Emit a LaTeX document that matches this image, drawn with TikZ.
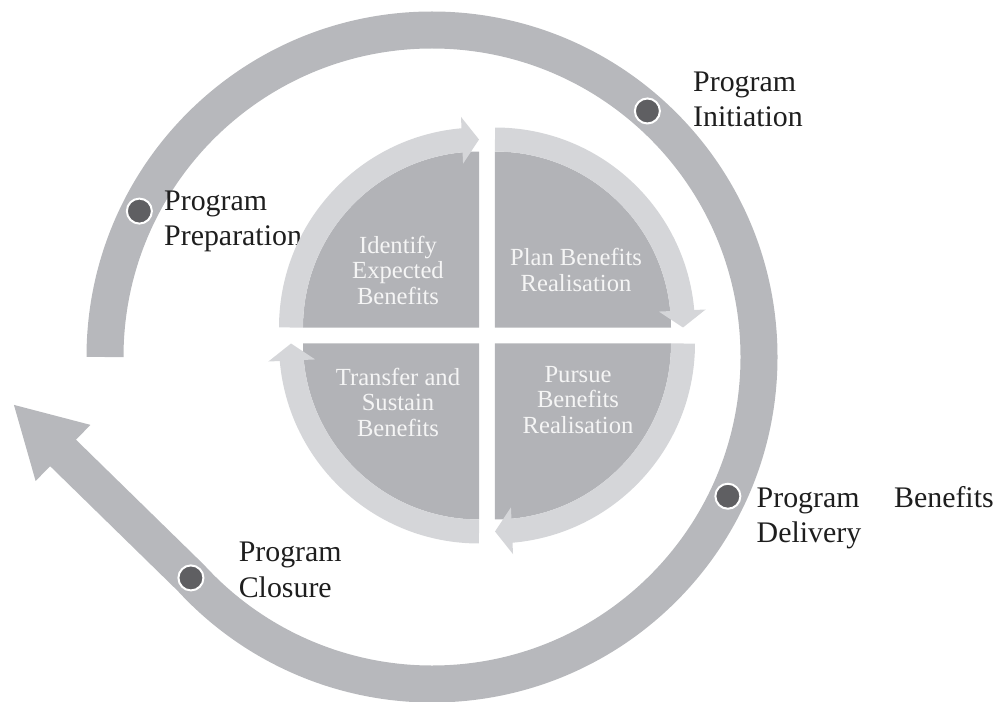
\documentclass[tikz,border=0pt]{standalone}
\usepackage{fontspec}
\setmainfont{Liberation Serif}
\usepackage{tikz}
\usetikzlibrary{shapes,arrows,arrows.meta,bending,calc,positioning}
\definecolor{bandgray}{RGB}{183,184,188}
\definecolor{quadgray}{RGB}{178,179,183}
\definecolor{lightband}{RGB}{213,214,217}
\definecolor{dotgray}{RGB}{95,95,98}
\definecolor{txtdark}{RGB}{30,30,30}
\tikzstyle{outerband} = [draw=bandgray, line width=7.4mm, -{Triangle[length=14mm,width=14.6mm]}, bandgray]
\tikzstyle{quarter} = [fill=quadgray, draw=none]
\tikzstyle{arcband} = [draw=lightband, line width=4.8mm, -{Triangle[length=3.4mm,width=9.2mm]}, lightband]
\tikzstyle{pdot} = [draw=white, fill=dotgray, circle, line width=0.4mm, inner sep=0pt, minimum size=5mm]
\tikzstyle{plabel} = [draw=none, inner sep=0pt, align=left, text=txtdark, font=\fontsize{17}{20}\selectfont]
\tikzstyle{qlabel} = [draw=none, inner sep=0pt, align=center, text=white!96!black, font=\fontsize{14}{14.5}\selectfont]

\begin{document}
\begin{tikzpicture}
\useasboundingbox (0,0) rectangle (20.04,14.02);

\coordinate (oc) at (8.64,6.88);
\coordinate (ic) at (9.74,7.31);
\coordinate (tip) at (0.26,5.94);

% outer cycle
\draw[outerband] ($(oc)+(180:6.54)$) arc[start angle=180, end angle=-137.5, radius=6.54] -- (tip);

\node[pdot] (prep) at ($(oc)+(153.5:6.54)$) {};
\node[pdot] (init) at ($(oc)+(48.8:6.54)$) {};
\node[pdot] (deliv) at ($(oc)+(-25.2:6.54)$) {};
\node[pdot] (close) at ($(oc)+(-137.5:6.54)$) {};

\node[plabel, right=2.2mm of prep, yshift=-2mm] (prepl) {Program\\Preparation};
\node[plabel, right=6.4mm of init, yshift=2.3mm] (initl) {Program\\Initiation};
\node[plabel, right=3mm of deliv, yshift=-4.3mm] (delivl) {\hbox to 47.4mm{Program\hfill Benefits}\\Delivery};
\node[plabel, right=6.8mm of close, yshift=1.6mm] (closel) {Program\\Closure};

% benefits cycle
\foreach \a in {180,90,0,-90} {
  \fill[quarter] ($(ic)+(\a-45:0.226)$) -- ++(\a:3.52) arc[start angle=\a, end angle=\a-90, radius=3.52] -- cycle;
  \draw[arcband] ($(ic)+(\a-45:0.226)+(\a:3.76)$) arc[start angle=\a, end angle=\a-90, radius=3.76];
}

\node[qlabel] (ident) at ($(ic)+(-1.78,1.31)$) {Identify\\Expected\\Benefits};
\node[qlabel] (plan) at ($(ic)+(1.78,1.31)$) {Plan Benefits\\Realisation};
\node[qlabel] (pursue) at ($(ic)+(1.82,-1.29)$) {Pursue\\Benefits\\Realisation};
\node[qlabel] (transf) at ($(ic)+(-1.78,-1.33)$) {Transfer and\\Sustain\\Benefits};

\end{tikzpicture}
\end{document}
